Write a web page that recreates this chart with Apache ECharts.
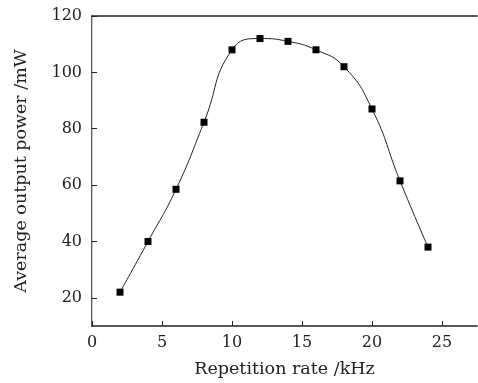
<!DOCTYPE html>
<html>
<head>
<meta charset="utf-8">
<script src="https://cdn.jsdelivr.net/npm/echarts@6/dist/echarts.min.js"></script>
<style>
  html, body { margin: 0; padding: 0; background: #fff; }
  #chart { width: 478px; height: 383px; }
</style>
</head>
<body>
<div id="chart"></div>
<script>
// repetition rate (kHz) and measured average output power (mW)
const repRate = [2, 4, 6, 8, 10, 12, 14, 16, 18, 20, 22, 24]
const avgPower = [22, 40, 58.5, 82.3, 108, 112, 111, 108, 102, 87, 61.5, 38]

const xTicks = [0, 5, 10, 15, 20, 25]
const yTicks = [20, 40, 60, 80, 100, 120]

const font = 'DejaVu Serif'
const chart = echarts.init(document.getElementById('chart'))

const option = {
  animation: false,
  grid: { left: 92, top: 16, right: 1, bottom: 55 },
  xAxis: [
    {
      type: 'value',
      min: 0,
      max: 27.5,
      interval: 5,
      name: 'Repetition rate /kHz',
      nameLocation: 'middle',
      nameGap: 34,
      nameTextStyle: { fontFamily: font, fontSize: 17.5, color: '#222' },
      axisLine: { lineStyle: { color: '#222', width: 1.5 } },
      axisTick: { inside: true, length: 5, lineStyle: { color: '#222' } },
      axisLabel: {
        fontFamily: font, fontSize: 16, color: '#222', margin: 9,
        showMaxLabel: false,
        formatter: v => xTicks.includes(v) ? String(v) : ''
      },
      splitLine: { show: false }
    },
    {
      type: 'value', position: 'top', min: 0, max: 27.5,
      axisLine: { show: true, lineStyle: { color: '#222', width: 1.5 } },
      axisTick: { show: false }, axisLabel: { show: false }, splitLine: { show: false }
    }
  ],
  yAxis: [
    {
      type: 'value',
      min: 10,
      max: 120,
      interval: 10,
      name: 'Average output power /mW',
      nameLocation: 'middle',
      nameGap: 62,
      nameTextStyle: { fontFamily: font, fontSize: 17.5, color: '#222' },
      axisLine: { show: true, lineStyle: { color: '#222', width: 1.5 } },
      axisTick: {
        inside: true, length: 5, lineStyle: { color: '#222' },
        customValues: yTicks
      },
      axisLabel: {
        fontFamily: font, fontSize: 16, color: '#222', margin: 10,
        customValues: yTicks
      },
      splitLine: { show: false }
    },
    {
      type: 'value', position: 'right', min: 10, max: 120,
      axisLine: { show: true, lineStyle: { color: '#ccc', width: 1 } },
      axisTick: { show: false }, axisLabel: { show: false }, splitLine: { show: false }
    }
  ],
  series: [
    {
      type: 'line',
      data: repRate.map((x, i) => [x, avgPower[i]]),
      smooth: 0.5,
      symbol: 'rect',
      symbolSize: 7,
      itemStyle: { color: '#000' },
      lineStyle: { color: '#222', width: 1 }
    }
  ]
}

chart.setOption(option)
</script>
</body>
</html>
